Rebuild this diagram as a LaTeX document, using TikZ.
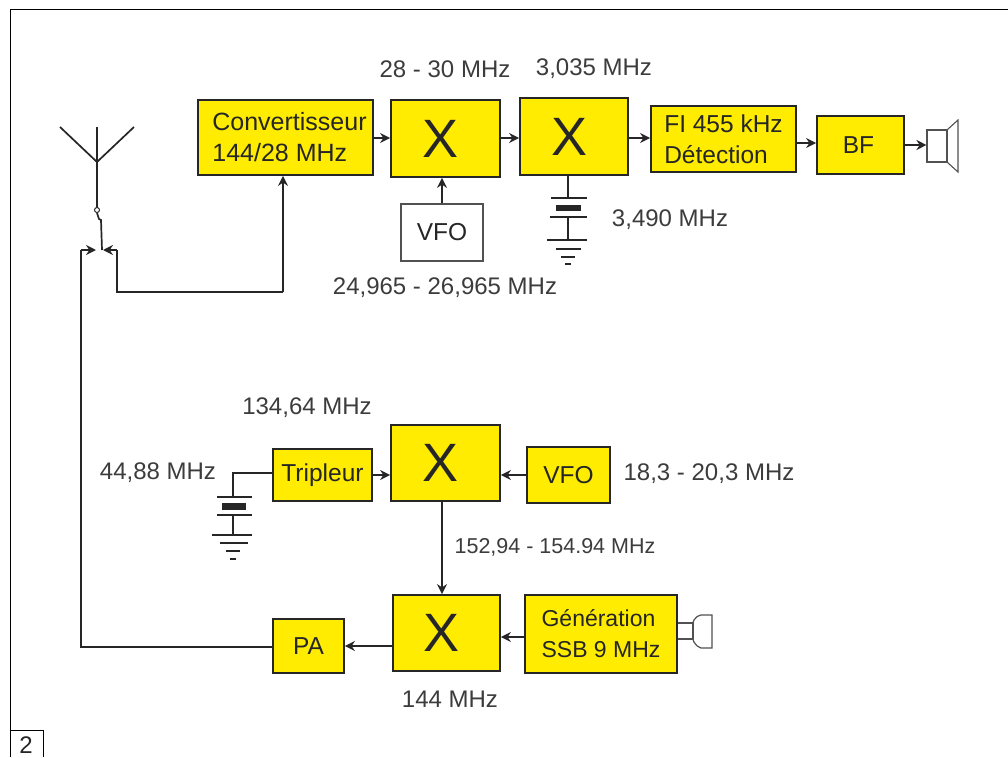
\documentclass[tikz,border=0pt]{standalone}
\usepackage{fontspec}
\setmainfont{Liberation Sans}
\usetikzlibrary{arrows.meta}
\definecolor{boxyellow}{HTML}{FFEC00}
\definecolor{inkdark}{HTML}{262626}
\definecolor{labelgrey}{HTML}{3C3C3C}
\tikzset{
  x=1pt,y=-1pt,
  wire/.style={draw=inkdark,line width=1.7pt},
  arrowwire/.style={wire,-{Stealth[length=10pt,width=10pt]}},
  thin wire/.style={draw=inkdark,line width=1pt},
  yellowbox/.style={draw=inkdark,fill=boxyellow,line width=1.8pt,inner sep=0pt,align=left,text=inkdark,font=\fontsize{24.5}{31}\selectfont},
  mixer/.style={yellowbox,font=\fontsize{54}{54}\selectfont},
  whitebox/.style={yellowbox,fill=white,draw=inkdark!80,line width=1.1pt},
  freqlabel/.style={text=labelgrey,inner sep=0pt,font=\fontsize{24}{26}\selectfont},
  frameline/.style={draw=black,line width=1pt}
}
\newcommand{\mixermark}{X\hspace{10pt}}
\begin{document}
\begin{tikzpicture}
\useasboundingbox (0,0) rectangle (1008,757);
\fill[white] (0,0) rectangle (1008,757);
% page frame
\draw[frameline] (1008,10) -- (10,10) -- (10,757);
\draw[frameline] (10,730) -- (43,730) -- (43,757);
\node[inner sep=0pt,text=inkdark,font=\fontsize{24}{24}\selectfont] (fignum) at (26,745) {2};

% top chain
\node[yellowbox,minimum width=175pt,minimum height=75pt,font=\fontsize{25}{31}\selectfont] (conv) at (285.5,137.5) {\hspace*{8pt}Convertisseur\\\hspace*{8pt}144/28 MHz};
\node[mixer,minimum width=109pt,minimum height=77pt] (x1) at (445.5,138.5) {\mixermark};
\node[mixer,minimum width=108pt,minimum height=77pt] (x2) at (574,136.5) {\mixermark};
\node[yellowbox,minimum width=145pt,minimum height=66pt] (fi) at (723.5,139) {FI 455 kHz\\Détection};
\node[yellowbox,minimum width=87pt,minimum height=58pt] (bf) at (860.5,145) {BF\hspace{4pt}};
\node[whitebox,minimum width=82pt,minimum height=57pt] (vfo1) at (442,232.5) {VFO};
\node[draw=inkdark!80,line width=1.1pt,minimum width=20pt,minimum height=32pt,inner sep=0pt] (spk) at (937,146) {};
\draw[draw=inkdark!80,line width=1.1pt] (spk.north east) -- (958,120) -- (958,172) -- (spk.south east);

\draw[arrowwire] (conv.east |- 0,138) -- (x1.west |- 0,138);
\draw[arrowwire] (x1.east |- 0,138) -- (x2.west |- 0,138);
\draw[arrowwire] (x2.east |- 0,138) -- (fi.west |- 0,138);
\draw[arrowwire] (fi.east |- 0,143) -- (bf.west |- 0,143);
\draw[arrowwire] (bf.east |- 0,145) -- (spk.west |- 0,145);
\draw[arrowwire] (vfo1.north) -- (vfo1.north |- x1.south);

% crystal 1
\coordinate (c1top) at (568,198);
\draw[wire] (x2.south -| c1top) -- (c1top);
\draw[wire] (551,198) -- (587,198);
\fill[inkdark] (556,205) rectangle (581,211);
\draw[wire] (550,217) -- (587,217);
\draw[wire] (568,217) -- (568,240);
\draw[wire] (547,240) -- (587,240);
\draw[wire] (556,249) -- (581,249);
\draw[wire] (561,257) -- (575,257);
\draw[wire] (565,264) -- (571,264);

% antenna and switch
\coordinate (antfoot) at (97,162);
\coordinate (armL) at (60,127);
\coordinate (armR) at (134,127);
\coordinate (armM) at (97,127);
\coordinate (swpivot) at (97,210);
\coordinate (swrx) at (103,250);
\coordinate (swtx) at (96,250);
\draw[wire] (armL) -- (antfoot) -- (armR);
\draw[wire] (armM) -- (swpivot);
\draw[thin wire,fill=white] (swpivot) circle (2.5);
\draw[wire] (97,213) -- (99,219) -- (101,220) -- (102,250);
\draw[arrowwire] (283,292) -- (conv.south -| 283,0);
\draw[wire] (283,292) -- (117,292) -- (117,250);
\draw[arrowwire] (117,250) -- (swrx);
\coordinate (patap) at (81,647);
\draw[arrowwire] (81,250) -- (swtx);

% lower chain
\node[yellowbox,minimum width=99pt,minimum height=52pt] (trip) at (322.5,475) {Tripleur};
\node[mixer,minimum width=109pt,minimum height=76pt] (x3) at (445.5,463) {\mixermark};
\node[yellowbox,minimum width=83pt,minimum height=56pt] (vfo2) at (568.5,475) {VFO};
\node[mixer,minimum width=107pt,minimum height=76pt] (x4) at (446.5,633) {\mixermark};
\node[yellowbox,minimum width=152pt,minimum height=78pt,font=\fontsize{23}{31}\selectfont] (gen) at (601,634) {Génération\\SSB 9 MHz};
\node[yellowbox,minimum width=71pt,minimum height=54pt] (pa) at (308.5,646) {PA};

\draw[arrowwire] (trip.east |- 0,475) -- (x3.west |- 0,475);
\draw[arrowwire] (vfo2.west |- 0,475) -- (x3.east |- 0,475);
\draw[arrowwire] (x3.south -| 442,0) -- (x4.north -| 442,0);
\draw[arrowwire] (gen.west |- 0,637) -- (x4.east |- 0,637);
\draw[arrowwire] (x4.west |- 0,646) -- (pa.east |- 0,646);
\draw[wire] (pa.west |- 0,647) -- (patap) -- (81,250);

% crystal 2
\draw[wire] (trip.west |- 0,473) -- (233,473) -- (233,497);
\draw[wire] (217,497) -- (252,497);
\fill[inkdark] (222,503) rectangle (246,510);
\draw[wire] (217,515) -- (252,515);
\draw[wire] (233,515) -- (233,535);
\draw[wire] (212,535) -- (252,535);
\draw[wire] (220,543) -- (248,543);
\draw[wire] (226,551) -- (240,551);
\draw[wire] (230,559) -- (236,559);

% microphone
\draw[draw=inkdark!80,line width=1.2pt] (gen.east |- 0,623) -- (693,623);
\draw[draw=inkdark!80,line width=1.2pt] (gen.east |- 0,639) -- (693,639);
\draw[draw=inkdark!80,line width=1.2pt] (693,623) -- (693,639);
\draw[draw=inkdark!80,line width=1.2pt] (712,615) -- (701,615) .. controls (694,617) and (692,621) .. (693,631) .. controls (692,641) and (694,645) .. (701,648) -- (712,648) -- cycle;

% frequency labels
\node[freqlabel] (l1) at (445,69) {28 - 30 MHz};
\node[freqlabel] (l2) at (594,69) {3,035 MHz};
\node[freqlabel] (l3) at (670,220) {3,490 MHz};
\node[freqlabel] (l4) at (445,288) {24,965 - 26,965 MHz};
\node[freqlabel] (l5) at (307,408) {134,64 MHz};
\node[freqlabel] (l6) at (158,473) {44,88 MHz};
\node[freqlabel] (l7) at (709,474) {18,3 - 20,3 MHz};
\node[freqlabel,font=\fontsize{21.5}{26}\selectfont] (l8) at (555,547) {152,94 - 154.94 MHz};
\node[freqlabel] (l9) at (450,699) {144 MHz};
\end{tikzpicture}
\end{document}
